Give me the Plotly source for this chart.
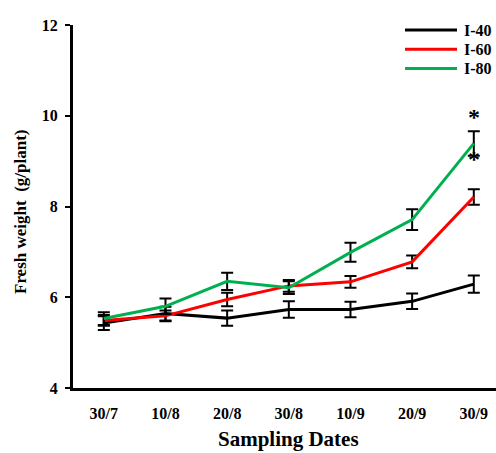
import plotly.graph_objects as go

dates = ["30/7", "10/8", "20/8", "30/8", "10/9", "20/9", "30/9"]
i40 = [5.43, 5.64, 5.54, 5.73, 5.73, 5.91, 6.29]
i40_err = [0.15, 0.15, 0.17, 0.18, 0.17, 0.17, 0.19]
i60 = [5.49, 5.59, 5.95, 6.25, 6.34, 6.78, 8.21]
i60_err = [0.12, 0.12, 0.15, 0.13, 0.13, 0.14, 0.17]
i80 = [5.53, 5.80, 6.35, 6.21, 6.99, 7.71, 9.39]
i80_err = [0.14, 0.17, 0.19, 0.14, 0.21, 0.23, 0.27]
series_names = ["I-40", "I-60", "I-80"]
series_colors = ["#000000", "#ff0000", "#00b050"]
star_y = [9.98, 9.05]
x_title = "Sampling Dates"
y_title = "Fresh weight  (g/plant)"

FONT = "Liberation Serif"
W, H = 496, 453
ML, MR, MT, MB = 73, 0, 25, 65
PW, PH = W - ML - MR, H - MT - MB


def px_x(p):
    return (p - ML) / PW


def px_y(p):
    return (H - MB - p) / PH


fig = go.Figure()
for name, vals, errs, col in zip(series_names, [i40, i60, i80],
                                 [i40_err, i60_err, i80_err], series_colors):
    fig.add_trace(go.Scatter(
        x=dates, y=vals, name=name, mode="lines",
        line=dict(color=col, width=3),
        error_y=dict(type="data", array=errs, visible=True,
                     color="black", thickness=2, width=6),
        showlegend=False,
    ))

for sy in star_y:
    fig.add_annotation(x=dates[-1], y=sy, text="*", showarrow=False,
                       font=dict(family=FONT, size=24, color="black", weight="bold"),
                       xanchor="center", yanchor="middle")

# legend (drawn manually to match the long legend lines)
for k, (name, col) in enumerate(zip(series_names, series_colors)):
    yy = px_y(30 + 19.3 * k)
    fig.add_shape(type="line", xref="paper", yref="paper",
                  x0=px_x(405), x1=px_x(457), y0=yy, y1=yy,
                  line=dict(color=col, width=3))
    fig.add_annotation(xref="paper", yref="paper", x=px_x(462), y=yy,
                       text=name, showarrow=False, xanchor="left", yanchor="middle",
                       font=dict(family=FONT, size=16, color="black", weight="bold"))

# axis titles
fig.add_annotation(xref="paper", yref="paper", x=px_x(288), y=px_y(439),
                   text=x_title, showarrow=False, xanchor="center", yanchor="middle",
                   font=dict(family=FONT, size=21, color="black", weight="bold"))
fig.add_annotation(xref="paper", yref="paper", x=px_x(20), y=px_y(212),
                   text=y_title, showarrow=False, xanchor="center", yanchor="middle",
                   textangle=-90,
                   font=dict(family=FONT, size=17, color="black", weight="bold"))

fig.update_layout(
    width=W, height=H,
    margin=dict(l=ML, r=MR, t=MT, b=MB),
    paper_bgcolor="white", plot_bgcolor="white",
    font=dict(family=FONT, size=16, color="black", weight="bold"),
    showlegend=False,
    xaxis=dict(
        type="category", range=[-0.5, 6.36],
        showline=True, linecolor="black", linewidth=3,
        ticks="", showgrid=False, zeroline=False,
        ticklabelstandoff=9, automargin=False,
        tickfont=dict(family=FONT, size=16, weight="bold"),
    ),
    yaxis=dict(
        range=[4, 12], tickvals=[4, 6, 8, 10, 12],
        showline=True, linecolor="black", linewidth=3,
        ticks="outside", ticklen=5, tickwidth=2, tickcolor="black",
        showgrid=False, zeroline=False,
        ticklabelstandoff=4, automargin=False,
        tickfont=dict(family=FONT, size=16, weight="bold"),
    ),
)

fig.write_html("out.html", config={"displayModeBar": False},
               post_script="document.body.style.margin='0';document.body.style.overflow='hidden';")
